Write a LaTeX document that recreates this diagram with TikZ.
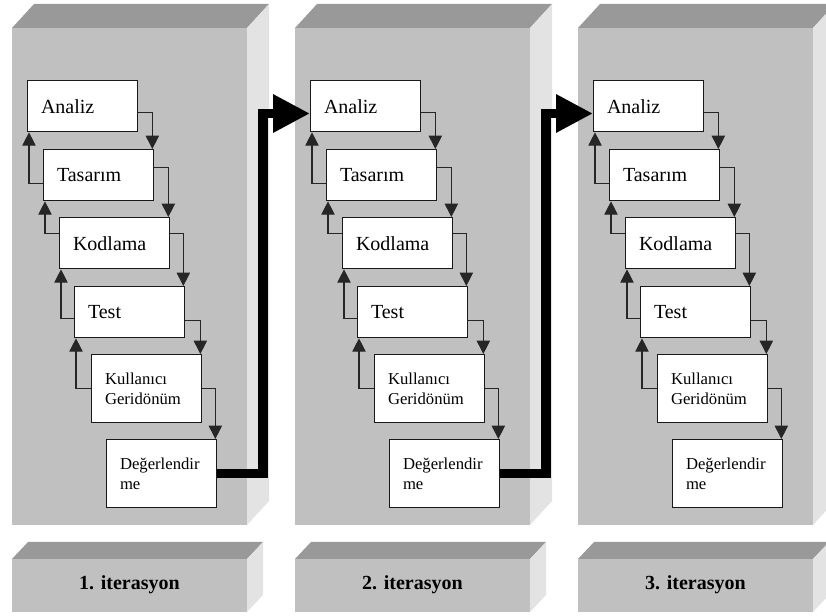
\documentclass[tikz,border=0pt]{standalone}
\usepackage{fontspec}
\setmainfont{Liberation Serif}
\usetikzlibrary{arrows.meta}

\definecolor{onyuz}{HTML}{C0C0C0}
\definecolor{ustyuz}{HTML}{999999}
\definecolor{yanyuz}{HTML}{E3E3E3}

\tikzset{
  kutu/.style={draw=black!90, line width=1pt, fill=white, anchor=north west,
    text width=62.5pt, inner xsep=10pt, align=left, minimum height=38.25pt,
    font=\fontsize{15}{18}\selectfont},
  kucukkutu/.style={kutu, minimum height=51pt, font=\fontsize{12.5}{15.5}\selectfont},
  donus/.style={draw=black!85, line width=0.8pt, -{Triangle[length=10pt,width=10pt]}},
  kalinok/.style={line width=7pt, -{Triangle[length=27.75pt,width=27pt]}},
  etiket/.style={font=\bfseries\fontsize{15}{18}\selectfont}
}

\begin{document}
\begin{tikzpicture}[x=0.75pt,y=-0.75pt]
  \useasboundingbox (0,0) rectangle (826,616);

  \foreach \i/\x in {1/0,2/283,3/566} {
    % Arka blok
    \fill[onyuz] (\x+12,28) rectangle (\x+247,525);
    \fill[ustyuz] (\x+12,28) -- (\x+34,4) -- (\x+269,4) -- (\x+247,28) -- cycle;
    \fill[yanyuz] (\x+247,28) -- (\x+269,4) -- (\x+269,501) -- (\x+247,525) -- cycle;

    % Etiket blogu
    \fill[onyuz] (\x+12,559) rectangle (\x+247,612);
    \fill[ustyuz] (\x+12,559) -- (\x+28,542) -- (\x+263,542) -- (\x+247,559) -- cycle;
    \fill[yanyuz] (\x+247,559) -- (\x+263,542) -- (\x+263,595) -- (\x+247,612) -- cycle;
    \node[etiket] (etiket\i) at (\x+129.5,585) {\i. iterasyon};

    % Adimlar
    \node[kutu] (analiz\i) at (\x+27,80) {Analiz};
    \node[kutu] (tasarim\i) at (\x+43,149) {Tasarım};
    \node[kutu] (kodlama\i) at (\x+59,217) {Kodlama};
    \node[kutu] (test\i) at (\x+74,286) {Test};
    \node[kucukkutu] (kullanici\i) at (\x+91,354) {Kullanıcı\\Geridönüm};
    \node[kucukkutu] (deger\i) at (\x+106,439) {Değerlendir\\me};

    % Asagi oklar
    \draw[donus] ([yshift=-5pt]analiz\i.east) -| ([xshift=-1.5pt]tasarim\i.north east);
    \draw[donus] ([yshift=6pt]tasarim\i.east) -| ([xshift=-1.5pt]kodlama\i.north east);
    \draw[donus] ([yshift=7pt]kodlama\i.east) -| ([xshift=-1.5pt]test\i.north east);
    \draw[donus] ([yshift=-6.5pt]test\i.east) -| ([xshift=-1.5pt]kullanici\i.north east);
    \draw[donus] (kullanici\i.east) -| ([xshift=-1.5pt]deger\i.north east);

    % Geri donus oklari
    \draw[donus] ([yshift=-6.5pt]tasarim\i.west) -| ([xshift=1.5pt]analiz\i.south west);
    \draw[donus] ([yshift=7pt]kodlama\i.west) -| ([xshift=1.5pt]tasarim\i.south west);
    \draw[donus] ([yshift=-5pt]test\i.west) -| ([xshift=1.5pt]kodlama\i.south west);
    \draw[donus] (kullanici\i.west) -| ([xshift=1.5pt]test\i.south west);
  }

  % Iterasyonlar arasi kalin oklar
  \foreach \i/\j in {1/2,2/3}
    \draw[kalinok] (deger\i.east) -| ([xshift=-35.25pt,yshift=-5.5pt]analiz\j.west)
      -- ([yshift=-5.5pt]analiz\j.west);
\end{tikzpicture}
\end{document}
